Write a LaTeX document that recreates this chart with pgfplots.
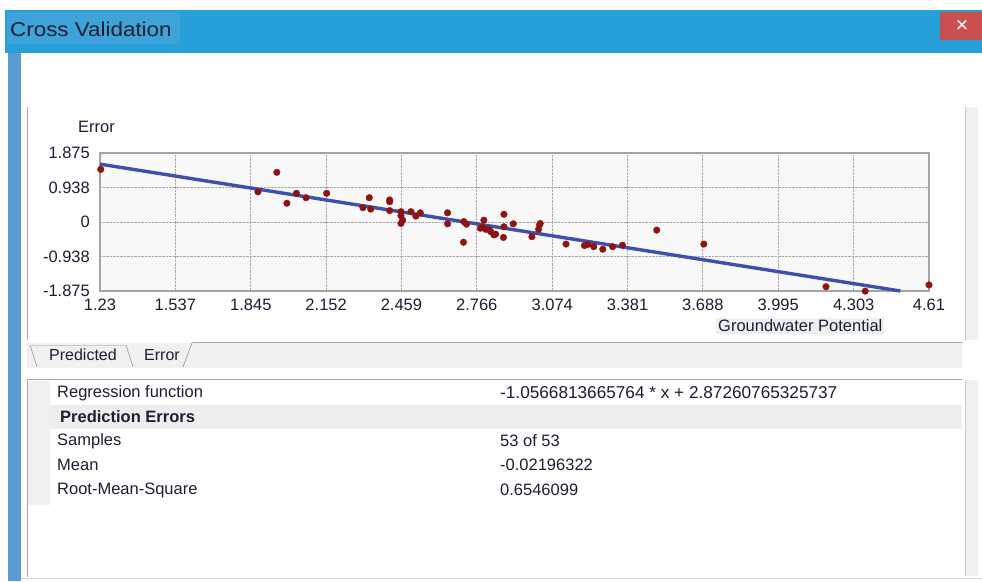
\documentclass[border=0pt]{standalone}
\usepackage{fontspec}
\setmainfont{Liberation Sans}
\newfontfamily\titlefont[FakeStretch=1.12]{Liberation Sans}
\usepackage{pgfplots}
\pgfplotsset{compat=1.18}
\definecolor{titleblue}{HTML}{27A0DA}
\definecolor{titlehl}{HTML}{3DA3D8}
\definecolor{closered}{HTML}{C9504E}
\definecolor{framebl}{HTML}{5B9BD3}
\definecolor{panelgray}{HTML}{A8A8A8}
\definecolor{lightband}{HTML}{F0F0F0}
\definecolor{rowgray}{HTML}{EEEEEE}
\definecolor{plotbg}{HTML}{F8F8F8}
\definecolor{gridgray}{HTML}{A8A8A8}
\definecolor{axisgray}{HTML}{A4A4A4}
\definecolor{textdark}{HTML}{1E1E30}
\definecolor{ptred}{HTML}{8E1414}
\definecolor{lineblue}{HTML}{3F4FAE}
\definecolor{labelbg}{HTML}{EDF0F3}
\newcommand\fs[1]{\fontsize{#1}{#1}\selectfont}
\begin{document}
\begin{tikzpicture}[x=1pt,y=1pt]
\path[use as bounding box] (0,0) rectangle (982,581);
\fill[white] (0,0) rectangle (982,581);
% title bar
\fill[titleblue] (5,528) rectangle (982,571);
\fill[titlehl] (7,537) rectangle (180,569);
\node[anchor=west, inner sep=0pt, text=textdark] at (10,552) {\titlefont\fs{20}Cross Validation};
\fill[closered] (940,541) rectangle (982,569);
\node[text=white, inner sep=0pt] at (962,555) {\fs{22}×};
% left frame
\fill[framebl] (8,0) rectangle (21,528);
% plot panel
\draw[panelgray, line width=1pt] (27,474) -- (27,241);
\fill[lightband] (965,241) rectangle (978,474);
\draw[panelgray!60, line width=0.8pt] (965,241) -- (965,474);
% tab band
\fill[lightband] (27,213) rectangle (962,238);
\draw[panelgray, line width=1pt] (192,238) -- (962,238);
\draw[panelgray, line width=0.8pt] (30,236) -- (37,214);
\draw[panelgray, line width=0.8pt] (126,236) -- (133,214);
\draw[panelgray, line width=0.8pt] (183,214) -- (192,238);
\draw[panelgray!60, line width=0.8pt] (30,236) -- (126,236);
\node[anchor=center, inner sep=0pt, text=textdark] at (83,226) {\fs{16}Predicted};
\node[anchor=center, inner sep=0pt, text=textdark] at (162,226) {\fs{16}Error};
% lower panel
\draw[panelgray, line width=1pt] (27,201) -- (962,201);
\draw[panelgray, line width=1pt] (27,201) -- (27,4);
\fill[lightband] (28,76) rectangle (50,200);
\fill[rowgray] (50,152) rectangle (962,176);
\fill[lightband] (965,5) rectangle (978,201);
\draw[panelgray!60, line width=0.8pt] (965,5) -- (965,201);
\draw[panelgray!50, line width=1pt] (22,3) -- (982,3);
\node[anchor=west, inner sep=0pt, text=textdark] at (57,188) {\fs{16.5}Regression function};
\node[anchor=west, inner sep=0pt, text=textdark] at (500,188) {\fs{17.2}-1.0566813665764 * x + 2.87260765325737};
\node[anchor=west, inner sep=0pt, text=textdark] at (60,164) {\fs{16.5}\bfseries Prediction Errors};
\node[anchor=west, inner sep=0pt, text=textdark] at (57,140) {\fs{16.5}Samples};
\node[anchor=west, inner sep=0pt, text=textdark] at (500,140) {\fs{16.5}53 of 53};
\node[anchor=west, inner sep=0pt, text=textdark] at (57,116) {\fs{16.5}Mean};
\node[anchor=west, inner sep=0pt, text=textdark] at (500,116) {\fs{16.5}-0.02196322};
\node[anchor=west, inner sep=0pt, text=textdark] at (57,91) {\fs{16.5}Root-Mean-Square};
\node[anchor=west, inner sep=0pt, text=textdark] at (500,91) {\fs{16.5}0.6546099};
% axis labels
\node[anchor=west, inner sep=0pt, text=textdark] at (78,454) {\fs{16.5}Error};
\node[anchor=west, inner sep=2pt, fill=labelbg, text=textdark] at (716,255) {\fs{16.5}Groundwater Potential};
\begin{axis}[
  at={(100pt,290pt)}, anchor=south west,
  scale only axis, width=829pt, height=138pt,
  xmin=1.23, xmax=4.61, ymin=-1.875, ymax=1.875,
  xtick={1.23,1.537,1.845,2.152,2.459,2.766,3.074,3.381,3.688,3.995,4.303,4.61},
  xticklabels={1.23,1.537,1.845,2.152,2.459,2.766,3.074,3.381,3.688,3.995,4.303,4.61},
  ytick={-1.875,-0.938,0,0.938,1.875},
  yticklabels={-1.875,-0.938,0,0.938,1.875},
  grid=major,
  major grid style={densely dotted, draw=gridgray, line width=0.9pt},
  axis line style={draw=axisgray, line width=1.5pt},
  axis background/.style={fill=plotbg},
  major tick length=0pt,
  tick label style={font=\fs{16.5}, text=textdark},
  xticklabel style={inner sep=0pt, anchor=north, yshift=-8pt},
  yticklabel style={inner sep=0pt, anchor=east, xshift=-10pt},
  clip=false,
]
\addplot[lineblue, line width=3.4pt] coordinates {(1.23,1.5729) (4.4929,-1.875)};
\addplot[only marks, mark=*, mark size=3.3pt, mark options={fill=ptred, draw=ptred}] coordinates {
(1.233,1.43) (1.874,0.82) (1.951,1.35) (1.992,0.51) (2.031,0.78) (2.070,0.66)
(2.154,0.78) (2.302,0.39) (2.328,0.66) (2.334,0.35) (2.411,0.60) (2.411,0.55)
(2.411,0.31) (2.457,0.28) (2.457,0.17) (2.464,0.05) (2.457,-0.04) (2.498,0.28)
(2.518,0.16) (2.536,0.25) (2.647,0.25) (2.647,-0.05) (2.712,-0.55) (2.713,0.01)
(2.724,-0.06) (2.795,0.05) (2.781,-0.17) (2.790,-0.15) (2.803,-0.20) (2.816,-0.20)
(2.823,-0.26) (2.836,-0.35) (2.843,-0.33) (2.877,0.21) (2.877,-0.13) (2.875,-0.42)
(2.915,-0.05) (2.991,-0.40) (3.018,-0.20) (3.022,-0.08) (3.025,-0.04) (3.130,-0.60)
(3.205,-0.64) (3.219,-0.61) (3.243,-0.67) (3.280,-0.74) (3.320,-0.67) (3.360,-0.63)
(3.500,-0.22) (3.692,-0.60) (4.190,-1.76) (4.350,-1.88) (4.610,-1.71)
};
\end{axis}
\end{tikzpicture}
\end{document}
